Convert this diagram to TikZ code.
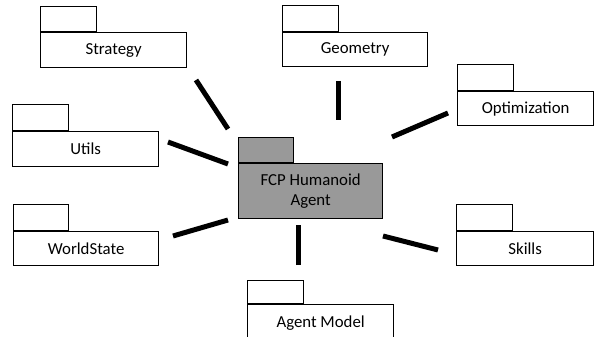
\documentclass[tikz,border=0pt]{standalone}
\usepackage{fontspec}
\setmainfont{Carlito}
\begin{document}
\begin{tikzpicture}[x=1pt,y=-1pt,
  pkgbody/.style={draw=black, line width=1.3pt, fill=white, rectangle,
    minimum width=146pt, minimum height=35pt, inner sep=0pt, anchor=north west,
    font=\fontsize{16.8}{20.5}\selectfont, align=center},
  pkgtab/.style={draw=black, line width=1.3pt, fill=white, rectangle,
    minimum width=56pt, minimum height=25pt, inner sep=0pt, anchor=south west},
  core/.style={fill=black!40},
  link/.style={line width=5pt, black}]
\useasboundingbox (0,0) rectangle (595,337);
\clip (0,0) rectangle (595,337);

% satellite packages
\node[pkgbody] (strategy) at (40,32) {Strategy};
\node[pkgtab] (strategyTab) at (strategy.north west) {};

\node[pkgbody, minimum width=145pt, minimum height=34pt] (geometry) at (282,32) {Geometry};
\node[pkgtab, minimum height=26pt] (geometryTab) at (geometry.north west) {};

\node[pkgbody, minimum width=136pt, minimum height=34pt] (optim) at (457,91) {Optimization};
\node[pkgtab, minimum height=26pt] (optimTab) at (optim.north west) {};

\node[pkgbody] (utils) at (12,131) {Utils};
\node[pkgtab, minimum height=26pt] (utilsTab) at (utils.north west) {};

\node[pkgbody, minimum width=145pt, minimum height=34pt] (world) at (13,231) {WorldState};
\node[pkgtab, minimum width=55pt, minimum height=26pt] (worldTab) at (world.north west) {};

\node[pkgbody, minimum width=137pt, minimum height=34pt] (skills) at (456,231) {Skills};
\node[pkgtab, minimum height=26pt] (skillsTab) at (skills.north west) {};

\node[pkgbody, minimum height=37pt] (model) at (247,304) {Agent Model};
\node[pkgtab, minimum height=23pt] (modelTab) at (model.north west) {};

% central package
\node[pkgbody, core, minimum width=144pt, minimum height=55pt] (agent) at (238,163) {FCP Humanoid\\Agent};
\node[pkgtab, core, minimum width=55pt] (agentTab) at (agent.north west) {};

% connector end points
\coordinate (sA) at (196,80);   \coordinate (sB) at (228,129);
\coordinate (gA) at (338,81);   \coordinate (gB) at (338,120);
\coordinate (oA) at (448,113);  \coordinate (oB) at (392,137);
\coordinate (uA) at (168,142);  \coordinate (uB) at (228,164);
\coordinate (wA) at (173,236);  \coordinate (wB) at (228,220);
\coordinate (kA) at (438,250);  \coordinate (kB) at (383,236);
\coordinate (mA) at (298,265);  \coordinate (mB) at (298,225);

\draw[link] (sA) -- (sB);
\draw[link] (gA) -- (gB);
\draw[link] (oA) -- (oB);
\draw[link] (uA) -- (uB);
\draw[link] (wA) -- (wB);
\draw[link] (kA) -- (kB);
\draw[link] (mA) -- (mB);
\end{tikzpicture}
\end{document}
